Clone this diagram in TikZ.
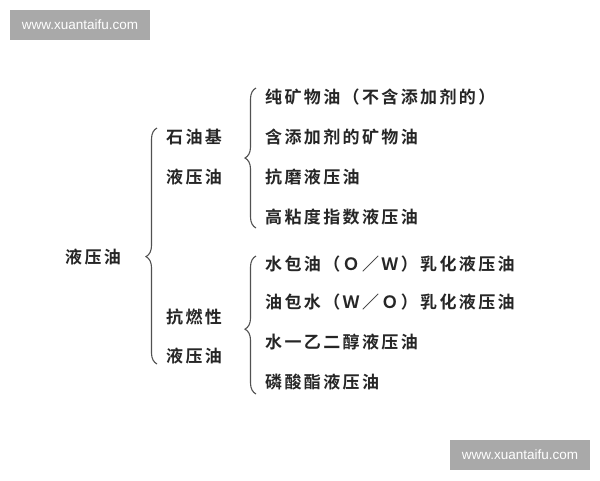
\documentclass[tikz,border=0pt]{standalone}
\usepackage{fontspec}
\newfontfamily\cjk[LetterSpace=14,BoldFont={Noto Sans CJK SC Bold}]{Noto Sans CJK SC}
\setsansfont{Liberation Sans}
\usetikzlibrary{decorations.pathreplacing}
\definecolor{ink}{HTML}{262626}
\definecolor{wm}{HTML}{A9A9A9}
\tikzset{
  txt/.style={inner sep=0pt, anchor=west, text=ink, font=\cjk\bfseries\fontsize{17}{20}\selectfont},
  brc/.style={draw=ink!80, line width=1.1pt, decorate, decoration={brace, amplitude=11pt, aspect=#1}},
  brc/.default=0.5,
  wmbox/.style={fill=wm, draw=none, minimum width=140pt, minimum height=30pt, inner sep=0pt,
    text=white, font=\sffamily\fontsize{13.5}{15}\selectfont},
}
\begin{document}
\begin{tikzpicture}[x=1pt,y=-1pt]
\useasboundingbox (0,0) rectangle (600,480);
\fill[white] (0,0) rectangle (600,480);
% watermarks
\node[wmbox] (wm1) at (80,25) {www.xuantaifu.com};
\node[wmbox] (wm2) at (520,455) {www.xuantaifu.com};
% root
\node[txt] (root) at (65,257) {液压油};
% middle
\node[txt] (m1a) at (166,137) {石油基};
\node[txt] (m1b) at (166,177) {液压油};
\node[txt] (m2a) at (166,317) {抗燃性};
\node[txt] (m2b) at (166,356) {液压油};
% leaves
\node[txt] (l1) at (265,97) {纯矿物油（不含添加剂的）};
\node[txt] (l2) at (265,137) {含添加剂的矿物油};
\node[txt] (l3) at (265,177) {抗磨液压油};
\node[txt] (l4) at (265,217) {高粘度指数液压油};
\node[txt] (l5) at (265,264) {水包油（Ｏ／Ｗ）乳化液压油};
\node[txt] (l6) at (265,302) {油包水（Ｗ／Ｏ）乳化液压油};
\node[txt] (l7) at (265,342) {水一乙二醇液压油};
\node[txt] (l8) at (265,382) {磷酸酯液压油};
% brace endpoints
\coordinate (b0t) at (157,128);
\coordinate (b0b) at (157,364);
\coordinate (b1t) at (256,88);
\coordinate (b1b) at (256,228);
\coordinate (b2t) at (256,256);
\coordinate (b2b) at (256,394);
\draw[brc=0.455] (b0b) -- (b0t);
\draw[brc=0.5] (b1b) -- (b1t);
\draw[brc=0.47] (b2b) -- (b2t);
\end{tikzpicture}
\end{document}
